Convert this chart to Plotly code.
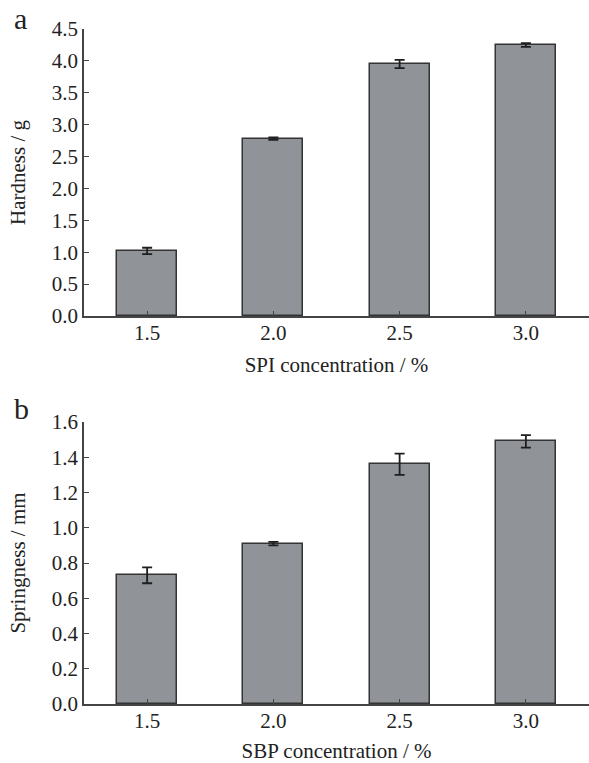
import plotly.graph_objects as go

categories = ["1.5", "2.0", "2.5", "3.0"]
hardness = [1.02, 2.78, 3.95, 4.25]
hardness_err = [0.05, 0.02, 0.065, 0.03]
springiness = [0.73, 0.91, 1.36, 1.49]
springiness_err = [0.045, 0.01, 0.06, 0.035]

W, H = 589, 763
FONT = "'Liberation Serif', 'Times New Roman', 'DejaVu Serif', serif"
BAR = "#909398"
EDGE = "#333333"

fig = go.Figure()
fig.add_trace(go.Bar(x=list(range(4)), y=hardness, width=0.475,
                     marker=dict(color=BAR, line=dict(color=EDGE, width=1.5)),
                     error_y=dict(type="data", array=hardness_err, color="#1e1e1e", thickness=1.8, width=5),
                     xaxis="x", yaxis="y", showlegend=False))
fig.add_trace(go.Bar(x=list(range(4)), y=springiness, width=0.475,
                     marker=dict(color=BAR, line=dict(color=EDGE, width=1.5)),
                     error_y=dict(type="data", array=springiness_err, color="#1e1e1e", thickness=1.8, width=5),
                     xaxis="x2", yaxis="y2", showlegend=False))

xl = 84 / W
common_x = dict(domain=[xl, 1], range=[-0.5, 3.5], tickmode="array", tickvals=list(range(4)),
                ticktext=categories, ticks="inside", ticklen=5, tickwidth=1.2, tickcolor="#444",
                showline=True, linecolor="#444", linewidth=1.5, showgrid=False, zeroline=False,
                tickfont=dict(family=FONT, size=21, color="#222"), ticklabelstandoff=-3, automargin=False)
common_y = dict(ticks="inside", ticklen=5, tickwidth=1.2, tickcolor="#444", showline=True,
                linecolor="#444", linewidth=1.5, showgrid=False, zeroline=False, tickformat=".1f",
                tickfont=dict(family=FONT, size=21, color="#222"), automargin=False)

fig.update_layout(
    width=W, height=H, margin=dict(l=0, r=0, t=0, b=0, autoexpand=False),
    paper_bgcolor="white", plot_bgcolor="white", bargap=0,
    xaxis=dict(**common_x, anchor="y",
               title=dict(text="SPI concentration / %", font=dict(family=FONT, size=21, color="#222"), standoff=13)),
    yaxis=dict(**common_y, domain=[(H - 316) / H, (H - 29) / H], range=[0, 4.5], dtick=0.5, anchor="x",
               title=dict(text="Hardness / g", font=dict(family=FONT, size=21, color="#222"), standoff=20)),
    xaxis2=dict(**common_x, anchor="y2",
                title=dict(text="SBP concentration / %", font=dict(family=FONT, size=21, color="#222"), standoff=14)),
    yaxis2=dict(**common_y, domain=[(H - 704) / H, (H - 422) / H], range=[0, 1.6], dtick=0.2, anchor="x2",
                title=dict(text="Springness / mm", font=dict(family=FONT, size=21, color="#222"), standoff=20)),
    annotations=[
        dict(text="a", x=12 / W, y=1 - 0 / H, xref="paper", yref="paper", xanchor="left", yanchor="top",
             showarrow=False, font=dict(family=FONT, size=30, color="#222")),
        dict(text="b", x=12 / W, y=1 - 390 / H, xref="paper", yref="paper", xanchor="left", yanchor="top",
             showarrow=False, font=dict(family=FONT, size=30, color="#222")),
    ],
)

fig.write_html("out.html")
